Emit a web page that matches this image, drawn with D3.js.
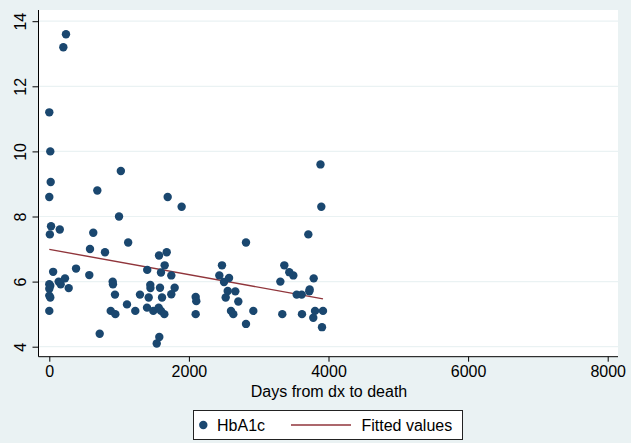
<!DOCTYPE html>
<html>
<head>
<meta charset="utf-8">
<script src="https://cdn.jsdelivr.net/npm/d3@7"></script>
<style>
  html, body { margin: 0; padding: 0; background: #ffffff; }
  svg { display: block; font-family: "Liberation Sans", Arial, sans-serif; }
</style>
</head>
<body>
<svg id="chart" width="631" height="448"></svg>
<script>
// ---- data ----
const days = [239, 201, 0, 14, 20, 0, 688, 1025, 1696, 3885, 3897, 1896, 999, 25, 8, 150, 630, 1130, 2818, 3711,
  583, 798, 55, 383, 573, 1572, 1682, 1403, 1653, 1600, 1748, 2474, 2436, 2575, 2503, 3367, 3438, 3496, 3310, 3788,
  0, 14, 0, 0, 14, 0, 134, 163, 225, 278, 908, 912, 941, 880, 946, 1113, 1232, 1299, 1424, 1400,
  1447, 1449, 1490, 1539, 1576, 1586, 1615, 1567, 1600, 1648, 1796, 1748, 722, 2097, 2106, 2097, 2556, 2665, 2527, 2708,
  2603, 2636, 2923, 2818, 3338, 3620, 3544, 3616, 3725, 3730, 3807, 3921, 3782, 3907];
const hba1c = [13.6, 13.2, 11.2, 10.0, 9.06, 8.6, 8.8, 9.4, 8.6, 9.6, 8.3, 8.3, 8.0, 7.7, 7.45, 7.6, 7.5, 7.2, 7.2, 7.45,
  7.0, 6.9, 6.3, 6.4, 6.2, 6.8, 6.9, 6.36, 6.5, 6.28, 6.19, 6.5, 6.19, 6.11, 5.99, 6.5, 6.29, 6.19, 6.0, 6.1,
  5.92, 5.87, 5.78, 5.57, 5.51, 5.10, 6.0, 5.92, 6.1, 5.8, 6.0, 5.92, 5.6, 5.1, 5.0, 5.3, 5.1, 5.6, 5.51, 5.2,
  5.9, 5.8, 5.1, 4.1, 4.3, 5.81, 5.51, 5.2, 5.1, 5.0, 5.81, 5.61, 4.4, 5.53, 5.4, 5.0, 5.71, 5.7, 5.51, 5.39,
  5.1, 5.0, 5.1, 4.7, 5.0, 5.0, 5.6, 5.6, 5.7, 5.76, 5.1, 5.1, 4.89, 4.6];
const fitDays = [0, 3921];
const fitValues = [6.99, 5.47];
const xTicks = [0, 2000, 4000, 6000, 8000];
const yTicks = [4, 6, 8, 10, 12, 14];
const xTitle = "Days from dx to death";
const legendLabels = ["HbA1c", "Fitted values"];

// ---- styling ----
const navy = "#1a476f", maroon = "#90353b", bg = "#eaf2f3";
const svg = d3.select("#chart");

svg.append("rect").attr("x", 0).attr("y", 0).attr("width", 631).attr("height", 443).attr("fill", bg);
// plot region
const plot = { left: 38.5, right: 618, top: 10, bottom: 356.7 };
svg.append("rect").attr("x", plot.left).attr("y", plot.top)
  .attr("width", plot.right - plot.left).attr("height", plot.bottom - plot.top).attr("fill", "#ffffff");

const x = d3.scaleLinear().domain([0, 8000]).range([49.3, 607.7]);
const y = d3.scaleLinear().domain([4, 14]).range([346.7, 21.2]);

// gridlines
svg.append("g").selectAll("line").data(yTicks).join("line")
  .attr("x1", plot.left).attr("x2", plot.right)
  .attr("y1", d => y(d)).attr("y2", d => y(d))
  .attr("stroke", bg).attr("stroke-width", 1.2);

// y axis
const yAxis = svg.append("g").attr("transform", `translate(${plot.left},0)`)
  .call(d3.axisLeft(y).tickValues(yTicks).tickSize(6).tickPadding(6).tickFormat(d3.format("d")));
yAxis.select(".domain").attr("d", `M0,${plot.top}V${plot.bottom}`).attr("stroke", "#000");
yAxis.selectAll(".tick line").attr("stroke", "#000");
yAxis.selectAll(".tick text")
  .attr("font-size", 16).attr("fill", "#000")
  .attr("text-anchor", "middle")
  .attr("x", null).attr("dy", null)
  .attr("transform", "translate(-13,0) rotate(-90)")
  .attr("y", 0);

// x axis
const xAxis = svg.append("g").attr("transform", `translate(0,${plot.bottom})`)
  .call(d3.axisBottom(x).tickValues(xTicks).tickSize(5).tickPadding(4).tickFormat(d3.format("d")));
xAxis.select(".domain").attr("d", `M${plot.left},0H${plot.right}`).attr("stroke", "#000");
xAxis.selectAll(".tick line").attr("stroke", "#000");
xAxis.selectAll(".tick text").attr("font-size", 16).attr("fill", "#000").attr("dy", null).attr("y", 20.5);

svg.append("text").attr("x", 329).attr("y", 397).attr("text-anchor", "middle")
  .attr("font-size", 16).attr("fill", "#000").text(xTitle);

// fitted line
const pts = days.map((d, i) => ({ d, v: hba1c[i] }));
svg.append("path")
  .datum(fitDays.map((d, i) => [d, fitValues[i]]))
  .attr("d", d3.line().x(p => x(p[0])).y(p => y(p[1])))
  .attr("fill", "none").attr("stroke", maroon).attr("stroke-width", 1.4);

// points
svg.append("g").selectAll("circle").data(pts).join("circle")
  .attr("cx", p => x(p.d)).attr("cy", p => y(p.v)).attr("r", 4.2)
  .attr("fill", navy);

// legend
const lg = svg.append("g");
lg.append("rect").attr("x", 193.5).attr("y", 410.5).attr("width", 269).attr("height", 29)
  .attr("fill", "#fff").attr("stroke", "#222").attr("stroke-width", 1);
lg.append("circle").attr("cx", 203.3).attr("cy", 425).attr("r", 4.2).attr("fill", navy);
lg.append("line").attr("x1", 291).attr("x2", 351).attr("y1", 425).attr("y2", 425)
  .attr("stroke", maroon).attr("stroke-width", 1.4);
lg.selectAll("text.lab").data(legendLabels).join("text").attr("class", "lab")
  .attr("x", (d, i) => i === 0 ? 217 : 361.5).attr("y", 431)
  .attr("font-size", 16).attr("fill", "#000").text(d => d);
</script>
</body>
</html>
